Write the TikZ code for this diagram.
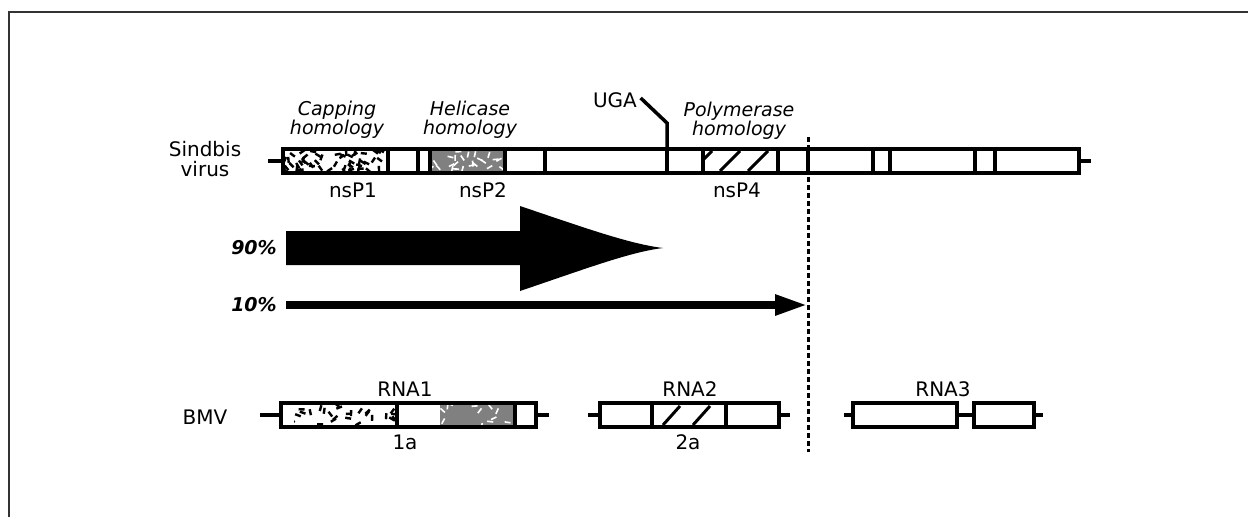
\documentclass[tikz,border=0pt]{standalone}
\usepackage{fontspec}
\setmainfont{DejaVu Sans}
\usetikzlibrary{arrows.meta}

% 随机斑点填充 (区域左上与右下, 数量, 样式)
\newcommand{\blotfill}[6]{%
  \begin{scope}
    \clip (#1,#2) rectangle (#3,#4);
    \foreach \i in {1,...,#5} {
      \pgfmathsetmacro\px{#1+rnd*(#3-#1)}
      \pgfmathsetmacro\py{#2+rnd*(#4-#2)}
      \pgfmathsetmacro\pa{rnd*180}
      \draw[#6] (\px,\py) -- ++(\pa:6);
    }
  \end{scope}}

\begin{document}
\begin{tikzpicture}[x=1pt, y=-1pt, line width=3.5pt,
    lbl/.style={font=\fontsize{20}{20}\selectfont, align=center, inner sep=0pt},
    ital/.style={font=\fontsize{19}{19.5}\selectfont\itshape, align=center, inner sep=0pt},
    pct/.style={font=\fontsize{19}{19}\selectfont\bfseries\itshape, inner sep=0pt},
    genebar/.style={draw=black, line width=3.5pt},
    capdots/.style={line width=2.4pt, black},
    heldots/.style={line width=1.6pt, white}]
  \useasboundingbox (0,0) rectangle (1248,517);
  \pgfmathsetseed{11}

  % 1. 外框 (只有上边与左边)
  \draw[line width=2.5pt, black!80] (9,517) -- (9,12) -- (1248,12);

  % 2. Sindbis 基因组
  \blotfill{283}{149}{388}{173}{60}{capdots}
  \fill[black!50] (430,149) rectangle (505,173);
  \blotfill{430}{149}{505}{173}{24}{heldots}
  \begin{scope}
    \clip (703,149) rectangle (778,173);
    \foreach \s in {692,720,748}
      \draw[line width=3pt] (\s,171) -- ++(20,-20);
  \end{scope}
  \draw[genebar] (268,161) -- (283,161);
  \draw[genebar] (1079,161) -- (1091,161);
  \draw[genebar] (283,149) rectangle (1079,173);
  \foreach \d in {388,418,430,505,545,667,703,778,808,873,890,975,995}
    \draw[genebar] (\d,149) -- (\d,173);

  \node[lbl] (sindbis) at (205,159) {Sindbis\\virus};
  \node[ital] (cap) at (337,120) {Capping\\homology};
  \node[ital] (hel) at (470,120) {Helicase\\homology};
  \node[ital] (pol) at (739,121) {Polymerase\\homology};
  \node[lbl] (uga) at (615,100) {UGA};
  \draw[line width=3.5pt] ([xshift=2pt,yshift=2pt]uga.east) -- (667,123) -- (667,149);
  \node[lbl] (nsp1) at (353,190) {nsP1};
  \node[lbl] (nsp2) at (483,190) {nsP2};
  \node[lbl] (nsp4) at (737,190) {nsP4};

  % 3. 分界虚线
  \coordinate (cut top) at (808,137);
  \coordinate (cut bot) at (808,452);
  \draw[line width=3pt, dash pattern=on 5pt off 3pt] (cut top) -- (cut bot);

  % 4. 翻译产物箭头 (90% 粗, 10% 细)
  \node[pct] (p90) at (254,248) {90\%};
  \node[pct] (p10) at (254,305) {10\%};
  \fill (286,231) -- (520,231) -- (520,206)
    .. controls (585,228) and (630,244) .. (663,248)
    .. controls (630,252) and (585,269) .. (520,291)
    -- (520,265) -- (286,265) -- cycle;
  \coordinate (thin start) at (286,305);
  \coordinate (thin end) at (808,305);
  \draw[line width=8pt, -{Triangle[length=33pt,width=19pt]}] (thin start) -- (thin end);

  % 5. BMV 三个片段
  \node[lbl] (bmv) at (205,417) {BMV};
  % RNA1
  \blotfill{294}{403}{397}{427}{26}{capdots}
  \fill[black!50] (440,403) rectangle (515,427);
  \blotfill{440}{403}{515}{427}{18}{heldots}
  \draw[genebar] (260,415) -- (281,415);
  \draw[genebar] (536,415) -- (549,415);
  \draw[genebar] (281,403) rectangle (536,427);
  \foreach \d in {397,515}
    \draw[genebar] (\d,403) -- (\d,427);
  \node[lbl] (rna1) at (405,389) {RNA1};
  \node[lbl] (p1a) at (405,442) {1a};
  % RNA2
  \begin{scope}
    \clip (652,403) rectangle (726,427);
    \foreach \s in {663,693}
      \draw[line width=3pt] (\s,425) -- ++(17,-19);
  \end{scope}
  \draw[genebar] (588,415) -- (600,415);
  \draw[genebar] (779,415) -- (790,415);
  \draw[genebar] (600,403) rectangle (779,427);
  \foreach \d in {652,726}
    \draw[genebar] (\d,403) -- (\d,427);
  \node[lbl] (rna2) at (690,389) {RNA2};
  \node[lbl] (p2a) at (688,442) {2a};
  % RNA3
  \draw[genebar] (844,415) -- (853,415);
  \draw[genebar] (853,403) rectangle (957,427);
  \draw[genebar] (957,415) -- (974,415);
  \draw[genebar] (974,403) rectangle (1034,427);
  \draw[genebar] (1034,415) -- (1043,415);
  \node[lbl] (rna3) at (943,389) {RNA3};
\end{tikzpicture}
\end{document}
